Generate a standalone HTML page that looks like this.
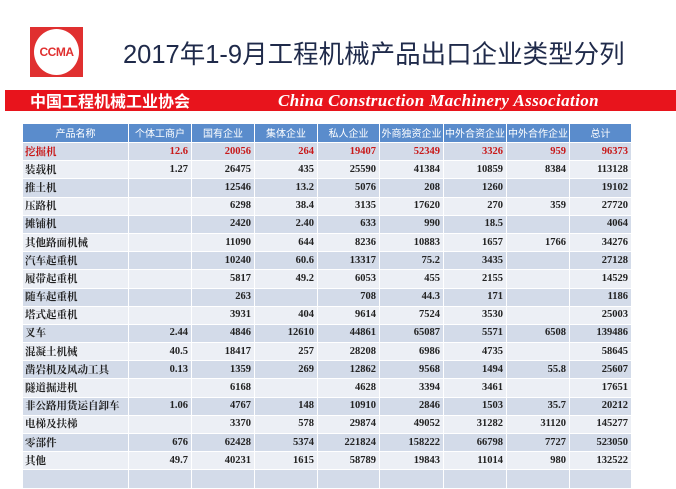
<!DOCTYPE html>
<html><head><meta charset="utf-8"><style>
body{margin:0;width:676px;height:474px;background:#fff;overflow:hidden;position:relative;font-family:"Liberation Serif","Noto Serif CJK SC",serif}
.logo{position:absolute;left:30px;top:27px;width:53px;height:50px;background:#e03030}
.logo div{position:absolute;left:4px;top:2px;width:45px;height:46px;border-radius:50%;background:#fff;color:#e03030;font:bold 12px "Liberation Sans",sans-serif;text-align:center;line-height:46px;letter-spacing:-0.5px}
.title{position:absolute;left:123px;top:34px;font:25.5px "Liberation Sans","Noto Sans CJK SC",sans-serif;color:#1f2a4a;white-space:nowrap}
.banner{position:absolute;left:5px;top:90px;width:671px;height:21px;background:#e8141c}
.banner .cn{position:absolute;left:25px;top:0;color:#fff;font:bold 16px "Noto Sans CJK SC",sans-serif;line-height:21px}
.banner .en{position:absolute;left:273px;top:0;color:#fff;font:italic bold 17px "Liberation Serif",serif;line-height:21px;letter-spacing:0.4px}
table{position:absolute;left:22px;top:123px;width:609px;border-collapse:collapse;table-layout:fixed}
td{height:17.2px;padding:0 3px;border:1px solid #fff;font-size:10.5px;font-weight:bold;text-align:right;color:#222;white-space:nowrap;overflow:hidden;line-height:16px}
td:first-child{text-align:left;font-family:"Noto Serif CJK SC",serif;padding-left:2px}
tr.h td{background:#5a8ccc;color:#fff;font-weight:normal;text-align:center;font-family:"Noto Sans CJK SC",sans-serif;font-size:10px;height:18px;padding:0}
tr:nth-child(even) td{background:#d3dbe9}
tr:nth-child(odd):not(.h) td{background:#eceff5}
tr.r td{color:#c81818}
</style></head><body>
<div class="logo"><div>CCMA</div></div>
<div class="title">2017年1-9月工程机械产品出口企业类型分列</div>
<div class="banner"><span class="cn">中国工程机械工业协会</span><span class="en">China Construction Machinery Association</span></div>
<table>
<colgroup><col style="width:106px"><col style="width:63px"><col style="width:63px"><col style="width:63px"><col style="width:62px"><col style="width:64px"><col style="width:63px"><col style="width:63px"><col style="width:62px"></colgroup>
<tr class="h"><td>产品名称</td><td>个体工商户</td><td>国有企业</td><td>集体企业</td><td>私人企业</td><td>外商独资企业</td><td>中外合资企业</td><td>中外合作企业</td><td>总计</td></tr>
<tr class="r"><td>挖掘机</td><td>12.6</td><td>20056</td><td>264</td><td>19407</td><td>52349</td><td>3326</td><td>959</td><td>96373</td></tr>
<tr><td>装载机</td><td>1.27</td><td>26475</td><td>435</td><td>25590</td><td>41384</td><td>10859</td><td>8384</td><td>113128</td></tr>
<tr><td>推土机</td><td></td><td>12546</td><td>13.2</td><td>5076</td><td>208</td><td>1260</td><td></td><td>19102</td></tr>
<tr><td>压路机</td><td></td><td>6298</td><td>38.4</td><td>3135</td><td>17620</td><td>270</td><td>359</td><td>27720</td></tr>
<tr><td>摊铺机</td><td></td><td>2420</td><td>2.40</td><td>633</td><td>990</td><td>18.5</td><td></td><td>4064</td></tr>
<tr><td>其他路面机械</td><td></td><td>11090</td><td>644</td><td>8236</td><td>10883</td><td>1657</td><td>1766</td><td>34276</td></tr>
<tr><td>汽车起重机</td><td></td><td>10240</td><td>60.6</td><td>13317</td><td>75.2</td><td>3435</td><td></td><td>27128</td></tr>
<tr><td>履带起重机</td><td></td><td>5817</td><td>49.2</td><td>6053</td><td>455</td><td>2155</td><td></td><td>14529</td></tr>
<tr><td>随车起重机</td><td></td><td>263</td><td></td><td>708</td><td>44.3</td><td>171</td><td></td><td>1186</td></tr>
<tr><td>塔式起重机</td><td></td><td>3931</td><td>404</td><td>9614</td><td>7524</td><td>3530</td><td></td><td>25003</td></tr>
<tr><td>叉车</td><td>2.44</td><td>4846</td><td>12610</td><td>44861</td><td>65087</td><td>5571</td><td>6508</td><td>139486</td></tr>
<tr><td>混凝土机械</td><td>40.5</td><td>18417</td><td>257</td><td>28208</td><td>6986</td><td>4735</td><td></td><td>58645</td></tr>
<tr><td>凿岩机及风动工具</td><td>0.13</td><td>1359</td><td>269</td><td>12862</td><td>9568</td><td>1494</td><td>55.8</td><td>25607</td></tr>
<tr><td>隧道掘进机</td><td></td><td>6168</td><td></td><td>4628</td><td>3394</td><td>3461</td><td></td><td>17651</td></tr>
<tr><td>非公路用货运自卸车</td><td>1.06</td><td>4767</td><td>148</td><td>10910</td><td>2846</td><td>1503</td><td>35.7</td><td>20212</td></tr>
<tr><td>电梯及扶梯</td><td></td><td>3370</td><td>578</td><td>29874</td><td>49052</td><td>31282</td><td>31120</td><td>145277</td></tr>
<tr><td>零部件</td><td>676</td><td>62428</td><td>5374</td><td>221824</td><td>158222</td><td>66798</td><td>7727</td><td>523050</td></tr>
<tr><td>其他</td><td>49.7</td><td>40231</td><td>1615</td><td>58789</td><td>19843</td><td>11014</td><td>980</td><td>132522</td></tr>
<tr><td></td><td></td><td></td><td></td><td></td><td></td><td></td><td></td><td></td></tr>
</table>
</body></html>
